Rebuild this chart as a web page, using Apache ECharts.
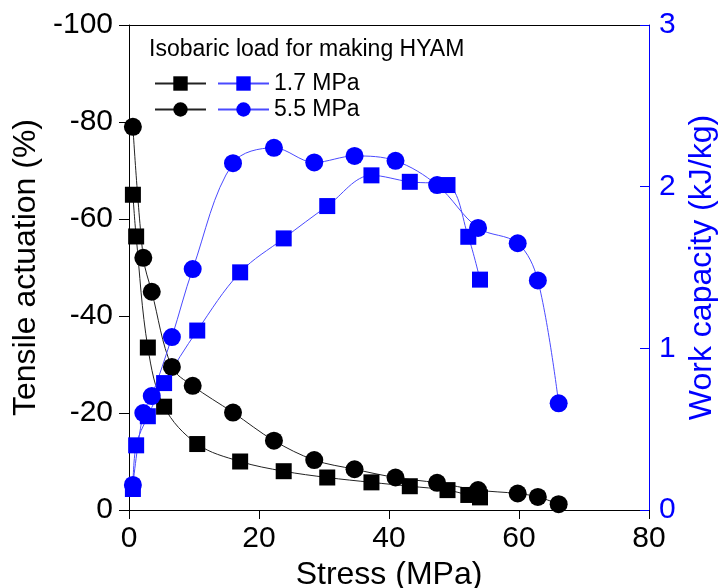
<!DOCTYPE html>
<html>
<head>
<meta charset="utf-8">
<script src="https://cdn.jsdelivr.net/npm/echarts@6/dist/echarts.min.js"></script>
<style>
  html, body { margin: 0; padding: 0; background: #fff; }
  #chart { width: 723px; height: 588px; }
</style>
</head>
<body>
<div id="chart"></div>
<script>
// 1.7 MPa isobaric load
const stress17 = [0.6, 1.1, 2.9, 5.4, 10.5, 17.1, 23.8, 30.5, 37.3, 43.2, 49, 52.2, 54]
const actuation17 = [-65, -56.4, -33.5, -21.3, -13.6, -10, -8, -6.7, -5.7, -4.9, -4.1, -3.1, -2.6]
const work17 = [0.13, 0.4, 0.58, 0.785, 1.11, 1.47, 1.68, 1.88, 2.07, 2.03, 2.01, 1.69, 1.425]

// 5.5 MPa isobaric load
const stress55 = [0.6, 2.2, 3.5, 6.6, 9.8, 16, 22.3, 28.5, 34.7, 41, 47.4, 53.7, 59.8, 62.9, 66.1]
const actuation55 = [-79, -52, -45, -29.5, -25.6, -20.1, -14.3, -10.3, -8.4, -6.7, -5.6, -4.1, -3.4, -2.7, -1.2]
const work55 = [0.155, 0.6, 0.705, 1.07, 1.49, 2.145, 2.24, 2.15, 2.19, 2.16, 2.01, 1.745, 1.65, 1.42, 0.66]

const font = "'Liberation Sans', Arial, sans-serif"
const blue = '#0000ff'

const pairs = (xs, ys) => xs.map((x, i) => [x, ys[i]])

const chart = echarts.init(document.getElementById('chart'))

const mkSeries = (name, xs, ys, symbol, color, lineColor, axis) => ({
  name,
  type: 'line',
  yAxisIndex: axis,
  data: pairs(xs, ys),
  smooth: 0.35,
  symbol,
  symbolSize: symbol === 'rect' ? 16 : 18,
  itemStyle: { color },
  lineStyle: { color: lineColor, width: 1 },
  animation: false,
})

chart.setOption({
  animation: false,
  textStyle: { fontFamily: font },
  grid: { left: 129, right: 74, top: 25, bottom: 78, containLabel: false, outerBoundsMode: 'none' },
  graphic: [{
    type: 'text',
    left: 149,
    top: 38,
    style: { text: 'Isobaric load for making HYAM', font: '23px ' + font, fill: '#000' },
  }],
  legend: [
    {
      left: 149, top: 67, orient: 'vertical',
      itemWidth: 51, itemHeight: 18, itemGap: 3,
      data: ['Tensile 1.7 MPa', 'Tensile 5.5 MPa'],
      formatter: () => ' ',
      textStyle: { fontSize: 23, lineHeight: 18 },
      selectedMode: false,
    },
    {
      left: 212, top: 67, orient: 'vertical',
      itemWidth: 51, itemHeight: 18, itemGap: 3,
      data: ['Work 1.7 MPa', 'Work 5.5 MPa'],
      formatter: (n) => n.replace('Work ', ''),
      textStyle: { fontSize: 23, lineHeight: 18, color: '#000', fontFamily: font },
      selectedMode: false,
    },
  ],
  xAxis: [
    {
      type: 'value', min: 0, max: 80, interval: 20,
      name: 'Stress (MPa)', nameLocation: 'middle', nameGap: 43,
      nameTextStyle: { fontSize: 32, color: '#000', fontFamily: font },
      axisLine: { onZero: false, lineStyle: { color: '#000', width: 1 } },
      axisTick: { show: true, length: 9, inside: false, lineStyle: { color: '#000' } },
      axisLabel: { fontSize: 30, color: '#000', margin: 14, fontFamily: font },
      splitLine: { show: false },
    },
    {
      type: 'value', min: 0, max: 80, position: 'top',
      axisLine: { show: true, onZero: false, lineStyle: { color: '#000', width: 1 } },
      axisTick: { show: false }, axisLabel: { show: false }, splitLine: { show: false },
    },
  ],
  yAxis: [
    {
      type: 'value', min: -100, max: 0, interval: 20, inverse: true,
      name: 'Tensile actuation (%)', nameLocation: 'middle', nameGap: 83,
      nameTextStyle: { fontSize: 32, color: '#000', fontFamily: font },
      axisLine: { show: true, onZero: false, lineStyle: { color: '#000', width: 1 } },
      axisTick: { show: true, length: 10, inside: false, lineStyle: { color: '#000' } },
      axisLabel: { fontSize: 30, color: '#000', margin: 16, fontFamily: font },
      splitLine: { show: false },
    },
    {
      type: 'value', min: 0, max: 3, interval: 1, position: 'right',
      name: 'Work capacity (kJ/kg)', nameLocation: 'middle', nameGap: 31,
      nameTextStyle: { fontSize: 32, color: blue, fontFamily: font },
      axisLine: { show: true, onZero: false, lineStyle: { color: blue, width: 1 } },
      axisTick: { show: true, length: 9, inside: true, lineStyle: { color: blue } },
      axisLabel: { fontSize: 30, color: blue, margin: 10, fontFamily: font },
      splitLine: { show: false },
    },
  ],
  series: [
    mkSeries('Tensile 1.7 MPa', stress17, actuation17, 'rect', '#000', '#222', 0),
    mkSeries('Tensile 5.5 MPa', stress55, actuation55, 'circle', '#000', '#222', 0),
    mkSeries('Work 1.7 MPa', stress17, work17, 'rect', blue, '#4a4aff', 1),
    mkSeries('Work 5.5 MPa', stress55, work55, 'circle', blue, '#4a4aff', 1),
  ],
})
</script>
</body>
</html>
